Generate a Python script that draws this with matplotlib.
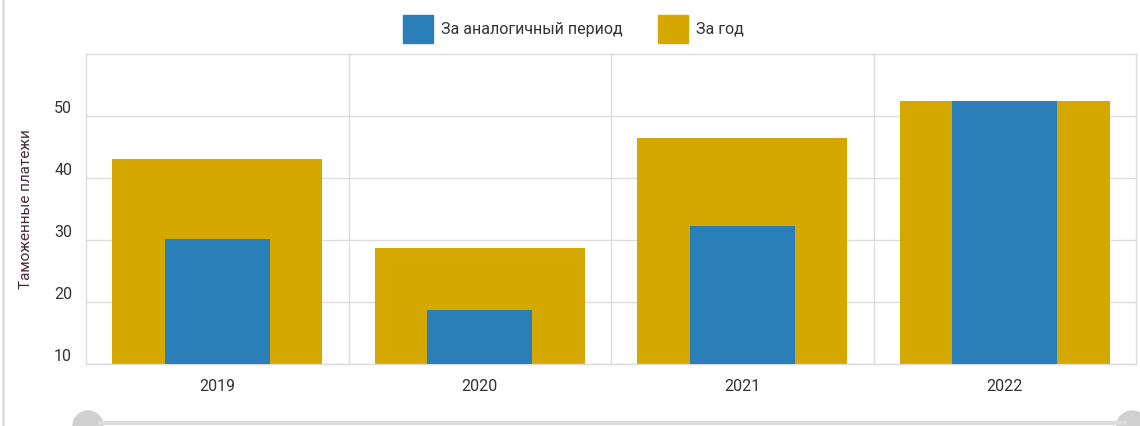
import matplotlib
matplotlib.use("Agg")
import matplotlib.pyplot as plt
from matplotlib.patches import Patch, Ellipse
from matplotlib.lines import Line2D
import numpy as np

plt.rcParams['font.family'] = ['Roboto', 'DejaVu Sans']

# Данные
years = ['2019', '2020', '2021', '2022']
za_period = [30.1, 18.7, 32.3, 52.4]
za_god = [43.1, 28.7, 46.5, 52.4]
series_labels = ['За аналогичный период', 'За год']
y_ticks = [10, 20, 30, 40, 50]

blue = '#2a7fb8'
gold = '#d5a800'
grid_c = '#dcdcdc'
text_c = '#333333'
fs = 11.5

fig = plt.figure(figsize=(11.4, 4.26), dpi=100)
ax = fig.add_axes([86 / 1140, 62 / 426, 1050 / 1140, 310 / 426])

x = np.arange(len(years))
ax.bar(x, za_god, width=0.8, color=gold, zorder=2)
ax.bar(x, za_period, width=0.4, color=blue, zorder=3)

ax.set_xlim(-0.5, len(years) - 0.5)
ax.set_ylim(10, 60)
ax.set_yticks(y_ticks)
ax.set_xticks(x)
ax.set_xticklabels(years)
ax.set_xticks(x[:-1] + 0.5, minor=True)
ax.tick_params(axis='both', which='both', length=0, colors=text_c, labelsize=fs)
ax.tick_params(axis='x', pad=11)
ax.tick_params(axis='y', pad=10)
for lbl in ax.get_yticklabels():
    lbl.set_verticalalignment('bottom')
ax.grid(axis='y', color=grid_c, linewidth=1, zorder=0)
ax.grid(axis='x', which='minor', color=grid_c, linewidth=1, zorder=0)
ax.grid(axis='x', which='major', visible=False)
for s in ax.spines.values():
    s.set_color(grid_c)
    s.set_linewidth(1)

ax.set_ylabel('Таможенные платежи', color='#4a2a3a', fontsize=11)
ax.yaxis.set_label_coords(-53 / 1050, 0.5)

# Легенда
handles = [Patch(facecolor=blue, edgecolor=blue), Patch(facecolor=gold, edgecolor=gold)]
fig.legend(handles, series_labels, loc='center', bbox_to_anchor=(0.503, 0.932), ncol=2,
           frameon=False, fontsize=fs, handlelength=1.9, handleheight=2.3,
           handletextpad=0.5, columnspacing=2.2, labelcolor=text_c)

# рамка и полоса прокрутки
fig.add_artist(Line2D([3 / 1140, 3 / 1140], [0, 1], color=grid_c, linewidth=2))
fig.add_artist(Line2D([100 / 1140, 1125 / 1140], [3 / 426, 3 / 426], color=grid_c, linewidth=3))
for cx in [88, 1132]:
    fig.add_artist(Ellipse((cx / 1140, 0), 30 / 1140, 30 / 426, color='#d0d0d0'))

fig.savefig('out.png', dpi=100)
